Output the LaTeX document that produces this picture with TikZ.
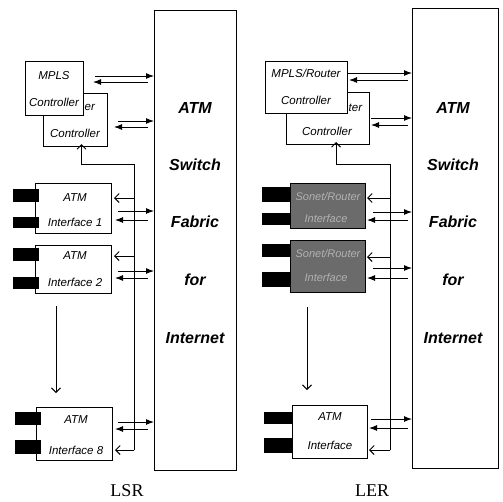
\documentclass[tikz,border=0pt]{standalone}
\usepackage{fontspec}
\usetikzlibrary{arrows.meta}
\newfontfamily\labfont{Liberation Sans}
\newfontfamily\serfont{Liberation Serif}
\begin{document}
\begin{tikzpicture}[x=1pt,y=-1pt,
  box/.style={draw,fill=white,line width=1pt,inner sep=0pt,anchor=north west},
  gbox/.style={draw,fill=black!58,line width=1pt,inner sep=0pt,anchor=north west},
  blk/.style={fill=black,inner sep=0pt,anchor=north west,minimum width=26pt},
  sml/.style={font=\labfont\itshape\fontsize{11.5}{11.5}\selectfont,inner sep=0pt},
  gtx/.style={font=\labfont\itshape\fontsize{11}{11}\selectfont,inner sep=0pt,text=white!70!black},
  big/.style={font=\labfont\bfseries\itshape\fontsize{16}{16}\selectfont,inner sep=0pt},
  captxt/.style={font=\serfont\fontsize{18}{18}\selectfont,inner sep=0pt,anchor=base},
  pa/.style={-{Latex[length=8pt,width=6pt]},line width=1pt},
  oa/.style={-{Straight Barb[length=4.5pt,width=9pt]},line width=1pt}]
\useasboundingbox (0,0) rectangle (503,501);

% ---------------- LSR ----------------
\node[box,minimum width=82pt,minimum height=460pt] (sw1) at (154,10) {};
\node[big] (s1a) at (195,108) {ATM};
\node[big] (s1b) at (195,165) {Switch};
\node[big] (s1c) at (195,222) {Fabric};
\node[big] (s1d) at (195,280) {for};
\node[big] (s1e) at (195,338) {Internet};

\node[box,minimum width=64pt,minimum height=53pt] (r1) at (43,93) {};
\node[sml,anchor=west] (r1a) at (84.5,107) {er};
\node[sml] (r1b) at (75,133) {Controller};
\node[box,minimum width=58pt,minimum height=54pt] (m1) at (25,61) {};
\node[sml] (m1a) at (54,76) {MPLS};
\node[sml] (m1b) at (54,102) {Controller};

\node[box,minimum width=76pt,minimum height=50pt] (if1) at (35,183) {};
\node[blk,minimum height=13pt] (k1a) at (13,189) {};
\node[blk,minimum height=11pt] (k1b) at (13,217) {};
\node[sml] (if1a) at (75,198) {ATM};
\node[sml] (if1b) at (75,222) {Interface 1};

\node[box,minimum width=76pt,minimum height=48pt] (if2) at (35,245) {};
\node[blk,minimum height=13pt] (k2a) at (13,248) {};
\node[blk,minimum height=12pt] (k2b) at (13,277) {};
\node[sml] (if2a) at (75,256) {ATM};
\node[sml] (if2b) at (75,282) {Interface 2};

\node[box,minimum width=76pt,minimum height=53pt] (if8) at (36,407) {};
\node[blk,minimum height=13pt] (k8a) at (15,412) {};
\node[blk,minimum height=14pt] (k8b) at (15,440) {};
\node[sml] (if8a) at (76,420) {ATM};
\node[sml] (if8b) at (76,450) {Interface 8};

\coordinate (d1s) at (56,306);
\coordinate (d1e) at (56,393);
\draw[oa] (d1s) -- (d1e);

% controller pairs
\draw[pa] ([xshift=11pt]m1.east |- 0,76) -- (sw1.west |- 0,76);
\draw[pa] ([xshift=-6pt]sw1.west |- 0,82) -- ([xshift=9pt]m1.east |- 0,82);
\draw[pa] ([xshift=10pt]r1.east |- 0,121) -- (sw1.west |- 0,121);
\draw[pa] ([xshift=-6pt]sw1.west |- 0,127) -- ([xshift=6pt]r1.east |- 0,127);
% interface pairs
\draw[pa] ([xshift=6pt]if1.east |- 0,211) -- (sw1.west |- 0,211);
\draw[pa] ([xshift=-6pt]sw1.west |- 0,220) -- ([xshift=3pt]if1.east |- 0,220);
\draw[pa] ([xshift=6pt]if2.east |- 0,271) -- (sw1.west |- 0,271);
\draw[pa] ([xshift=-6pt]sw1.west |- 0,278) -- ([xshift=3pt]if2.east |- 0,278);
\draw[pa] ([xshift=5pt]if8.east |- 0,422) -- (sw1.west |- 0,422);
\draw[pa] ([xshift=-6pt]sw1.west |- 0,429) -- ([xshift=2pt]if8.east |- 0,429);
% bus
\coordinate (b1t) at (134,164);
\coordinate (b1b) at (134,450);
\draw[oa] (b1b) -- (b1t) -| ([xshift=6pt,yshift=3pt]r1.south);
\draw[oa] (b1b) -- ([xshift=2pt]if8.east |- b1b);
\draw[oa] (b1t |- 0,198) -- ([xshift=2pt]if1.east |- 0,198);
\draw[oa] (b1t |- 0,256) -- ([xshift=2pt]if2.east |- 0,256);

\node[captxt] (lsr) at (127,496) {LSR};

% ---------------- LER ----------------
\node[box,minimum width=86pt,minimum height=460pt] (sw2) at (412,8) {};
\node[big] (s2a) at (453,108) {ATM};
\node[big] (s2b) at (453,165) {Switch};
\node[big] (s2c) at (453,222) {Fabric};
\node[big] (s2d) at (453,280) {for};
\node[big] (s2e) at (453,338) {Internet};

\node[box,minimum width=83pt,minimum height=52pt] (r2) at (286,92) {};
\node[sml,anchor=west] (r2a) at (348.5,108) {ter};
\node[sml] (r2b) at (327,131) {Controller};
\node[box,minimum width=82pt,minimum height=52pt] (m2) at (265,61) {};
\node[sml] (m2a) at (306,73) {MPLS/Router};
\node[sml] (m2b) at (306,100) {Controller};

\node[gbox,minimum width=75pt,minimum height=45pt] (g1) at (290,183) {};
\node[blk,minimum height=15pt,minimum width=28pt] (kg1a) at (262,187) {};
\node[blk,minimum height=12pt,minimum width=28pt] (kg1b) at (262,213) {};
\node[gtx] (g1a) at (328,197) {Sonet/Router};
\node[gtx] (g1b) at (326,219) {Interface};

\node[gbox,minimum width=75pt,minimum height=52pt] (g2) at (290,240) {};
\node[blk,minimum height=13pt,minimum width=28pt] (kg2a) at (262,244) {};
\node[blk,minimum height=15pt,minimum width=28pt] (kg2b) at (262,272) {};
\node[gtx] (g2a) at (328,254) {Sonet/Router};
\node[gtx] (g2b) at (326,278) {Interface};

\node[box,minimum width=75pt,minimum height=53pt] (if9) at (292,405) {};
\node[blk,minimum height=12pt,minimum width=28pt] (k9a) at (264,412) {};
\node[blk,minimum height=15pt,minimum width=28pt] (k9b) at (264,438) {};
\node[sml] (if9a) at (330,417) {ATM};
\node[sml] (if9b) at (330,445) {Interface};

\coordinate (d2s) at (307,307);
\coordinate (d2e) at (307,390);
\draw[oa] (d2s) -- (d2e);

\draw[pa] (m2.east |- 0,73) -- (sw2.west |- 0,73);
\draw[pa] ([xshift=-4pt]sw2.west |- 0,80) -- ([xshift=1pt]m2.east |- 0,80);
\draw[pa] ([xshift=1pt]r2.east |- 0,118) -- (sw2.west |- 0,118);
\draw[pa] ([xshift=-4pt]sw2.west |- 0,125) -- ([xshift=1pt]r2.east |- 0,125);
\draw[pa] ([xshift=7pt]g1.east |- 0,212) -- (sw2.west |- 0,212);
\draw[pa] ([xshift=-4pt]sw2.west |- 0,220) -- ([xshift=1pt]g1.east |- 0,220);
\draw[pa] ([xshift=7pt]g2.east |- 0,268) -- (sw2.west |- 0,268);
\draw[pa] ([xshift=-4pt]sw2.west |- 0,278) -- ([xshift=1pt]g2.east |- 0,278);
\draw[pa] ([xshift=3pt]if9.east |- 0,419) -- (sw2.west |- 0,419);
\draw[pa] ([xshift=-4pt]sw2.west |- 0,428) -- ([xshift=1pt]if9.east |- 0,428);

\coordinate (b2t) at (390,164);
\coordinate (b2b) at (390,450);
\draw[oa] (b2b) -- (b2t) -| ([xshift=8pt,yshift=3pt]r2.south);
\draw[oa] (b2b) -- ([xshift=1pt]if9.east |- b2b);
\draw[oa] (b2t |- 0,198) -- ([xshift=1pt]g1.east |- 0,198);
\draw[oa] (b2t |- 0,257) -- ([xshift=1pt]g2.east |- 0,257);

\node[captxt] (ler) at (372,496) {LER};
\end{tikzpicture}
\end{document}
